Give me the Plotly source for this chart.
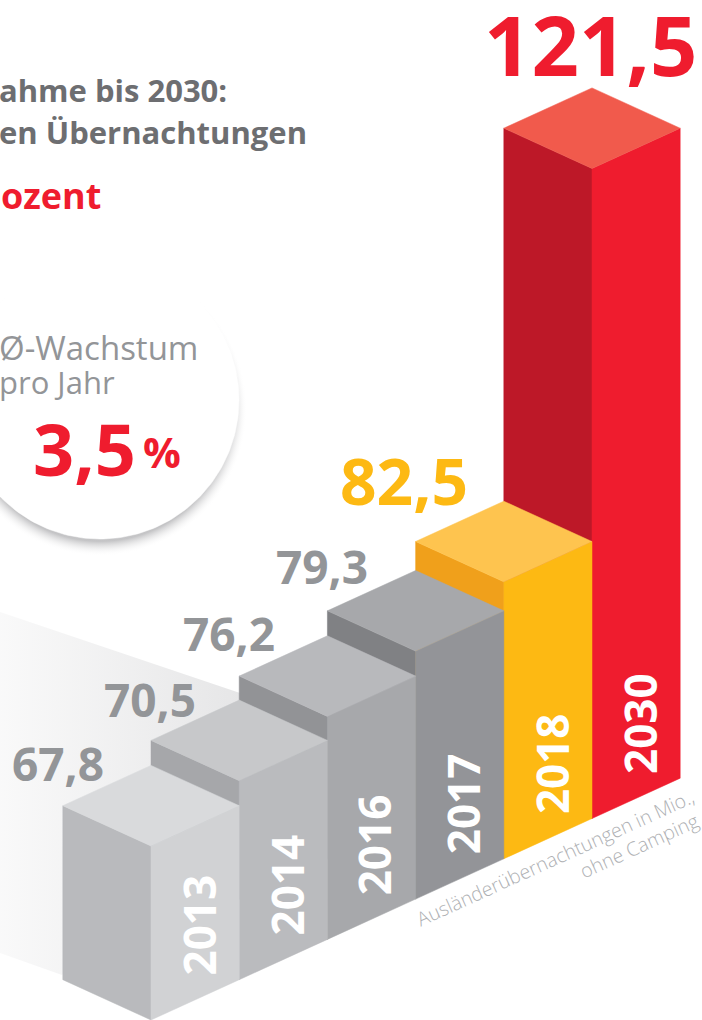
import numpy as np
import plotly.graph_objects as go

# Data
years = ["2013", "2014", "2016", "2017", "2018", "2030"]
values = [67.8, 70.5, 76.2, 79.3, 82.5, 121.5]

# Illustrated (non-linear) value scale of the original graphic: value -> projected height
scale_domain = [67.8, 70.5, 76.2, 79.3, 82.5, 121.5]
scale_range = [174, 199, 223, 248, 277, 650]

left_colors = ["#b9babd", "#a6a7aa", "#929396", "#808184", "#f0a01b", "#bd1828"]
right_colors = ["#d1d2d4", "#babbbe", "#a7a8ab", "#939498", "#fdb913", "#ef1c2e"]
top_colors = ["#d9dadc", "#c7c8ca", "#b8b9bc", "#a7a8ab", "#fec44f", "#f15a4c"]
label_colors = ["#939598", "#939598", "#939598", "#939598", "#fdb913", "#ef1c2e"]
label_sizes = [46, 46, 46, 46, 64, 83]
label_offsets = [(-93, -83), (-89, -82), (-98, -83), (-94, -85), (-100, -101), (-1, -125)]

FONT = "Open Sans"
X0, B0, DX, DY = 151.0, 1020.0, 88.2, 40.3


def height(v):
    return float(np.interp(v, scale_domain, scale_range))


def poly(pts, color):
    xs = [p[0] for p in pts] + [pts[0][0]]
    ys = [p[1] for p in pts] + [pts[0][1]]
    return go.Scatter(x=xs, y=ys, mode="lines", fill="toself", fillcolor=color,
                      line=dict(color=color, width=0.5), hoverinfo="skip", showlegend=False)


fig = go.Figure()

# floor shadow with gradient
fig.add_trace(go.Scatter(
    x=[0, 240, 240, 62, 0, 0], y=[612, 693, 800, 975, 953, 612], mode="lines", fill="toself",
    fillgradient=dict(type="horizontal", colorscale=[[0, "rgba(232,232,233,0.25)"], [1, "#e6e6e7"]]),
    line=dict(width=0), hoverinfo="skip", showlegend=False))

# badge circle with soft shadow
t = np.linspace(0, 2 * np.pi, 241)
cx, cy, r = 100.0, 400.0, 139.0
fig.add_trace(go.Scatter(
    x=cx + (r + 8) * np.cos(t), y=cy + 9 + (r + 8) * np.sin(t), mode="lines", fill="toself",
    fillgradient=dict(type="radial", colorscale=[[0, "rgba(190,190,192,0.9)"], [0.9, "rgba(190,190,192,0.9)"], [1, "rgba(255,255,255,0)"]]),
    line=dict(width=0), hoverinfo="skip", showlegend=False))
fig.add_trace(poly(list(zip(cx + r * np.cos(t), cy + r * np.sin(t))), "#ffffff"))

# bars back to front
for i in reversed(range(len(values))):
    fx = X0 + i * DX
    by = B0 - i * DY
    ty = by - height(values[i])
    fig.add_trace(poly([(fx - DX, by - DY), (fx, by), (fx, ty), (fx - DX, ty - DY)], left_colors[i]))
    fig.add_trace(poly([(fx, by), (fx + DX, by - DY), (fx + DX, ty - DY), (fx, ty)], right_colors[i]))
    fig.add_trace(poly([(fx, ty), (fx + DX, ty - DY), (fx, ty - 2 * DY), (fx - DX, ty - DY)], top_colors[i]))


def note(text, x, y, size, color, bold=False, anchor="center", angle=0, weight=None, xshift=0):
    font = dict(family=FONT, size=size, color=color)
    if weight:
        font["weight"] = weight
    fig.add_annotation(x=x, y=y, xref="x", yref="y", text=f"<b>{text}</b>" if bold else text,
                       showarrow=False, xanchor=anchor, yanchor="middle", textangle=angle,
                       xshift=xshift, font=font)


for i, (yr, v) in enumerate(zip(years, values)):
    fx = X0 + i * DX
    by = B0 - i * DY
    ty = by - height(v)
    note(yr, fx + 47.5, by - 95, 44, "#ffffff", bold=True, angle=-90)
    ox, oy = label_offsets[i]
    note(f"{v:.1f}".replace(".", ","), fx + ox, ty + oy, label_sizes[i], label_colors[i], bold=True)

note("ahme bis 2030:", 0, 90, 31, "#6d6e71", bold=True, anchor="left", xshift=-3)
note("en Übernachtungen", 0, 132, 31, "#6d6e71", bold=True, anchor="left", xshift=-3)
note("ozent", 0, 195, 36, "#ef1c2e", bold=True, anchor="left", xshift=-1)
note("Ø-Wachstum", 0, 347, 33, "#939598", anchor="left", xshift=-3)
note("pro Jahr", 0, 382, 31, "#939598", anchor="left", xshift=-3)
note("3,5", 84, 448, 72, "#ef1c2e", bold=True)
note("%", 162, 451, 42, "#ef1c2e", bold=True)
note("Ausländerübernachtungen in Mio.,", 555, 857, 19.5, "#aeb0b3", angle=-24.4, weight=300)
note("ohne Camping", 639, 845, 19.5, "#aeb0b3", angle=-24.4, weight=300)

fig.update_layout(
    width=702, height=1020, margin=dict(l=0, r=0, t=0, b=0),
    paper_bgcolor="#ffffff", plot_bgcolor="#ffffff", showlegend=False,
    xaxis=dict(range=[0, 702], visible=False, fixedrange=True),
    yaxis=dict(range=[1020, 0], visible=False, fixedrange=True),
)
fig.write_html("out.html", config={"displayModeBar": False},
               post_script="document.body.style.margin='0';document.body.style.overflow='hidden';")
